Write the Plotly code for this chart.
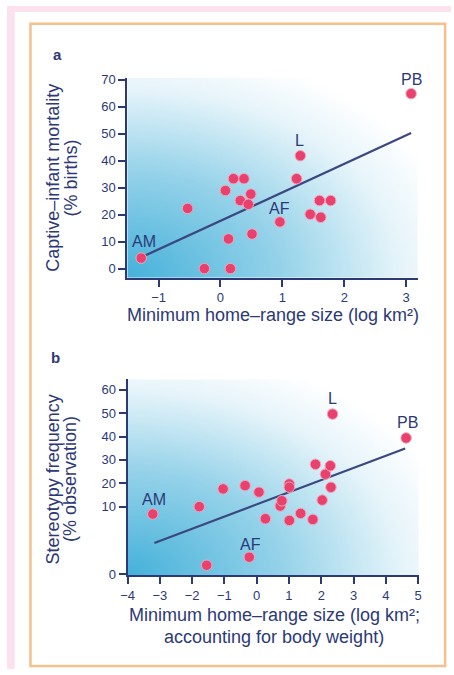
import base64

import plotly.graph_objects as go

W, H = 454, 675

NAVY = "#2c3977"
PINK = "#e8416d"
FONT = "Liberation Sans, Arial, sans-serif"

# panel a: captive-infant mortality (% births) vs minimum home-range size (log km2)
a_home_range = [-1.28, -0.53, -0.26, 0.08, 0.21, 0.38, 0.13, 0.16, 0.32, 0.49, 0.45, 0.51,
                0.96, 1.23, 1.29, 1.45, 1.62, 1.60, 1.78, 3.08]
a_mortality = [3.9, 22.3, 0.0, 28.9, 33.3, 33.3, 11.0, 0.0, 25.2, 27.6, 23.8, 12.8,
               17.3, 33.3, 41.8, 20.1, 19.0, 25.2, 25.2, 64.8]
a_fit_x = [-1.21, 3.08]
a_fit_y = [4.9, 50.2]
a_species = ["AM", "L", "AF", "PB"]
a_species_x = [-1.24, 1.28, 0.96, 3.08]
a_species_y = [9.9, 47.5, 22.4, 70.2]
a_xticks = [-1, 0, 1, 2, 3]
a_yticks = [0, 10, 20, 30, 40, 50, 60, 70]

# panel b: stereotypy frequency (% observation) vs home-range size corrected for body weight
b_home_range = [-3.22, -1.78, -1.04, -0.36, 0.07, -1.55, -0.23, 0.27, 0.73, 0.78, 1.01, 1.01,
                1.01, 1.36, 1.74, 1.82, 2.03, 2.13, 2.28, 2.30, 2.35, 4.63]
b_stereotypy = [8.9, 10.0, 17.6, 19.0, 16.2, 1.3, 2.5, 8.2, 10.3, 12.5, 19.7, 18.3,
                7.95, 9.0, 8.1, 28.1, 12.8, 23.9, 27.5, 18.3, 49.6, 39.4]
b_fit_x = [-3.17, 4.6]
b_fit_y = [4.6, 34.9]
b_species = ["AM", "L", "PB", "AF"]
b_species_x = [-3.19, 2.35, 4.66, -0.2]
b_species_y = [12.9, 56.3, 46.0, 4.4]
b_xticks = [-4, -3, -2, -1, 0, 1, 2, 3, 4, 5]
b_yticks = [0, 10, 20, 30, 40, 50, 60]

# the stereotypy axis is linear above 10 % and stretched out below it
B_LOW_STRETCH = 2.88


def stretch(v):
    return v if v >= 10 else 10 - (10 - v) * B_LOW_STRETCH


def px(x):
    return x / W


def py(y):
    return 1 - y / H


GRADIENT_SVG = (
    '<svg xmlns="http://www.w3.org/2000/svg" width="100" height="100" viewBox="0 0 100 100" '
    'preserveAspectRatio="none"><defs>'
    '<radialGradient id="g" gradientUnits="userSpaceOnUse" cx="0" cy="100" r="118">'
    '<stop offset="0" stop-color="#45b1da"/>'
    '<stop offset="0.45" stop-color="#95d2e9"/>'
    '<stop offset="0.8" stop-color="#e6f4fa"/>'
    '<stop offset="1" stop-color="#ffffff"/>'
    '</radialGradient></defs><rect width="100" height="100" fill="url(#g)"/></svg>'
)
GRADIENT_URI = "data:image/svg+xml;base64," + base64.b64encode(GRADIENT_SVG.encode()).decode()

fig = go.Figure()

marker = dict(size=10.5, color=PINK, line=dict(color="#f7a3ba", width=1))
fig.add_trace(go.Scatter(x=a_fit_x, y=a_fit_y, mode="lines", line=dict(color="#3b4880", width=2.2),
                         xaxis="x", yaxis="y", hoverinfo="skip"))
fig.add_trace(go.Scatter(x=a_home_range, y=a_mortality, mode="markers", marker=marker,
                         xaxis="x", yaxis="y", cliponaxis=False))
fig.add_trace(go.Scatter(x=b_fit_x, y=[stretch(v) for v in b_fit_y], mode="lines",
                         line=dict(color="#3b4880", width=2.2), xaxis="x2", yaxis="y2", hoverinfo="skip"))
fig.add_trace(go.Scatter(x=b_home_range, y=[stretch(v) for v in b_stereotypy], mode="markers",
                         marker=marker, xaxis="x2", yaxis="y2", cliponaxis=False))

axis_style = dict(showline=True, linecolor=NAVY, linewidth=2, ticks="outside", ticklen=7, tickwidth=1.5,
                  tickcolor=NAVY, showgrid=False, zeroline=False,
                  tickfont=dict(family=FONT, size=13, color=NAVY))

annotations = []
for name, x, y in zip(a_species, a_species_x, a_species_y):
    annotations.append(dict(x=x, y=y, xref="x", yref="y", text=name, showarrow=False,
                            font=dict(family=FONT, size=16, color=NAVY)))
for name, x, y in zip(b_species, b_species_x, b_species_y):
    annotations.append(dict(x=x, y=stretch(y), xref="x2", yref="y2", text=name, showarrow=False,
                            font=dict(family=FONT, size=16, color=NAVY)))

# panel letters and axis titles, placed in pixels of the page
title_font = dict(family=FONT, size=18, color=NAVY)
texts = [
    ("<b>a</b>", 52, 49, 0, dict(family=FONT, size=15, color=NAVY)),
    ("<b>b</b>", 50, 358, 0, dict(family=FONT, size=15, color=NAVY)),
    ("Captive–infant mortality", 47, 175, -90, title_font),
    ("(% births)", 65, 175, -90, title_font),
    ("Minimum home–range size (log km²)", 272, 315, 0, title_font),
    ("Stereotypy frequency", 47, 482, -90, title_font),
    ("(% observation)", 65, 482, -90, title_font),
    ("Minimum home–range size (log km²;", 274, 620, 0, title_font),
    ("accounting for body weight)", 273, 642, 0, title_font),
]
for text, x, y, angle, font in texts:
    annotations.append(dict(x=px(x), y=py(y), xref="paper", yref="paper", text=text, showarrow=False,
                            textangle=angle, font=font, xanchor="center", yanchor="middle"))

fig.update_layout(
    width=W, height=H, margin=dict(l=0, r=0, t=0, b=0),
    paper_bgcolor="white", plot_bgcolor="rgba(0,0,0,0)", showlegend=False,
    xaxis=dict(axis_style, domain=[px(123), px(420)], range=[-1.505, 3.187], tickvals=a_xticks,
               anchor="y"),
    yaxis=dict(axis_style, domain=[py(276.7), py(73)], range=[-3.4, 70.7], tickvals=a_yticks,
               anchor="x"),
    xaxis2=dict(axis_style, domain=[px(123.3), px(421)], range=[-4, 5.02], tickvals=b_xticks,
                anchor="y2"),
    yaxis2=dict(axis_style, domain=[py(579.3), py(380)], range=[-19.24, 64.5],
                tickvals=[stretch(v) for v in b_yticks], ticktext=[str(v) for v in b_yticks],
                anchor="x2"),
    annotations=annotations,
    images=[
        dict(source=GRADIENT_URI, xref="x domain", yref="y domain", x=0, y=1, sizex=1, sizey=1,
             xanchor="left", yanchor="top", sizing="stretch", layer="below"),
        dict(source=GRADIENT_URI, xref="x2 domain", yref="y2 domain", x=0, y=1, sizex=1, sizey=1,
             xanchor="left", yanchor="top", sizing="stretch", layer="below"),
    ],
    shapes=[
        dict(type="rect", xref="paper", yref="paper", x0=0, x1=1, y0=py(6), y1=1,
             fillcolor="#fbe2ee", line_width=0),
        dict(type="rect", xref="paper", yref="paper", x0=0, x1=px(8), y0=0, y1=1,
             fillcolor="#fbe2ee", line_width=0),
        dict(type="rect", xref="paper", yref="paper", x0=px(24), x1=px(448), y0=py(672), y1=py(18),
             line=dict(color="#f6c08c", width=2.5)),
    ],
)

# pin the fixed-size figure to the top-left corner of the page, clear of the body margin
page_fix = ("var gd = document.getElementById('{plot_id}');"
            "gd.style.position = 'fixed'; gd.style.left = '0px'; gd.style.top = '0px';"
            "document.body.style.margin = '0';")
fig.write_html("out.html", config={"displayModeBar": False}, post_script=page_fix)
